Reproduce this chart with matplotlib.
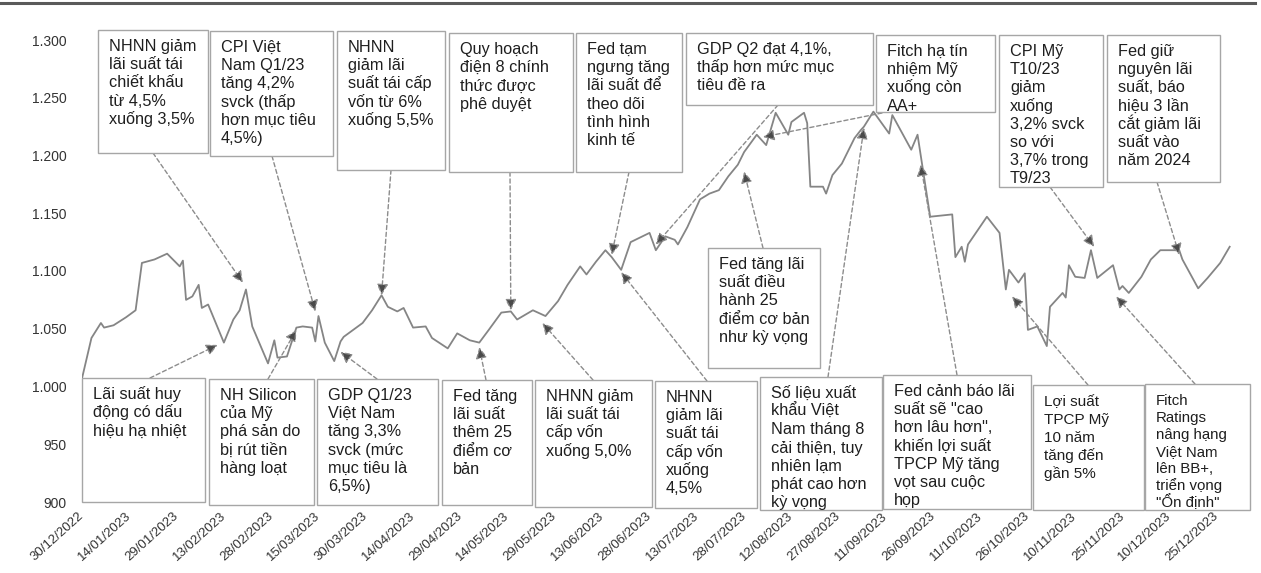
import matplotlib
matplotlib.use("Agg")
import matplotlib.pyplot as plt
import matplotlib.dates as mdates
from matplotlib.patches import Rectangle
from matplotlib.lines import Line2D
import numpy as np
import datetime as dt

# ---------------- data ----------------
dates = ["2022-12-30", "2023-01-02", "2023-01-05", "2023-01-06", "2023-01-09", "2023-01-13",
         "2023-01-16", "2023-01-18", "2023-01-22", "2023-01-26", "2023-01-30", "2023-01-31",
         "2023-02-01", "2023-02-03", "2023-02-05", "2023-02-06", "2023-02-08", "2023-02-13",
         "2023-02-16", "2023-02-18", "2023-02-20", "2023-02-22", "2023-02-27", "2023-03-01",
         "2023-03-02", "2023-03-05", "2023-03-08", "2023-03-10", "2023-03-13", "2023-03-14",
         "2023-03-15", "2023-03-17", "2023-03-20", "2023-03-22", "2023-03-23", "2023-03-29",
         "2023-04-01", "2023-04-04", "2023-04-06", "2023-04-09", "2023-04-11", "2023-04-14",
         "2023-04-18", "2023-04-20", "2023-04-25", "2023-04-28", "2023-05-02", "2023-05-05",
         "2023-05-08", "2023-05-12", "2023-05-15", "2023-05-17", "2023-05-22", "2023-05-26",
         "2023-05-30", "2023-06-02", "2023-06-06", "2023-06-08", "2023-06-11", "2023-06-14",
         "2023-06-16", "2023-06-19", "2023-06-22", "2023-06-28", "2023-06-30", "2023-07-03",
         "2023-07-06", "2023-07-07", "2023-07-10", "2023-07-14", "2023-07-17", "2023-07-20",
         "2023-07-23", "2023-07-26", "2023-07-28", "2023-08-01", "2023-08-04", "2023-08-07",
         "2023-08-11", "2023-08-12", "2023-08-16", "2023-08-17", "2023-08-18", "2023-08-22",
         "2023-08-23", "2023-08-25", "2023-08-28", "2023-09-01", "2023-09-03", "2023-09-04",
         "2023-09-07", "2023-09-12", "2023-09-13", "2023-09-19", "2023-09-21", "2023-09-25",
         "2023-10-02", "2023-10-03", "2023-10-05", "2023-10-06", "2023-10-07", "2023-10-13",
         "2023-10-17", "2023-10-19", "2023-10-20", "2023-10-23", "2023-10-25", "2023-10-26",
         "2023-10-29", "2023-11-01", "2023-11-02", "2023-11-06", "2023-11-07", "2023-11-08",
         "2023-11-10", "2023-11-13", "2023-11-15", "2023-11-17", "2023-11-22", "2023-11-24",
         "2023-11-25", "2023-11-27", "2023-12-01", "2023-12-04", "2023-12-07", "2023-12-13",
         "2023-12-14", "2023-12-19", "2023-12-22", "2023-12-26", "2023-12-29"]
vnindex = [1007, 1042, 1055, 1051, 1053, 1060, 1066, 1107, 1110, 1115, 1104, 1109,
           1075, 1078, 1088, 1068, 1071, 1038, 1058, 1066, 1084, 1052, 1020, 1040,
           1025, 1026, 1051, 1052, 1051, 1039, 1061, 1038, 1022, 1039, 1043, 1055,
           1066, 1079, 1069, 1065, 1068, 1051, 1052, 1042, 1033, 1046, 1040, 1038,
           1049, 1064, 1065, 1058, 1066, 1061, 1074, 1088, 1104, 1097, 1108, 1118,
           1112, 1101, 1125, 1133, 1118, 1130, 1127, 1123, 1138, 1162, 1167, 1170,
           1182, 1192, 1203, 1218, 1209, 1237, 1218, 1229, 1237, 1228, 1173, 1173,
           1167, 1183, 1193, 1215, 1222, 1225, 1238, 1219, 1235, 1205, 1218, 1147,
           1149, 1112, 1121, 1108, 1123, 1147, 1133, 1084, 1101, 1090, 1098, 1049,
           1052, 1035, 1069, 1081, 1077, 1105, 1095, 1094, 1118, 1094, 1105, 1084,
           1087, 1081, 1095, 1110, 1118, 1118, 1110, 1085, 1094, 1107, 1121]

y_ticks = [900, 950, 1000, 1050, 1100, 1150, 1200, 1250, 1300]
x_tick_start = "2022-12-30"
x_tick_step_days = 15
x_tick_count = 25

# annotation texts, arrow targets (date, value)
top_texts = [
    ["NHNN giảm", "lãi suất tái", "chiết khấu", "từ 4,5%", "xuống 3,5%"],
    ["CPI Việt", "Nam Q1/23", "tăng 4,2%", "svck (thấp", "hơn mục tiêu", "4,5%)"],
    ["NHNN", "giảm lãi", "suất tái cấp", "vốn từ 6%", "xuống 5,5%"],
    ["Quy hoạch", "điện 8 chính", "thức được", "phê duyệt"],
    ["Fed tạm", "ngưng tăng", "lãi suất để", "theo dõi", "tình hình", "kinh tế"],
    ["GDP Q2 đạt 4,1%,", "thấp hơn mức mục", "tiêu đề ra"],
    ["Fitch hạ tín", "nhiệm Mỹ", "xuống còn", "AA+"],
    ["CPI Mỹ", "T10/23", "giảm", "xuống", "3,2% svck", "so với", "3,7% trong", "T9/23"],
    ["Fed giữ", "nguyên lãi", "suất, báo", "hiệu 3 lần", "cắt giảm lãi", "suất vào", "năm 2024"],
]
top_targets = [("2023-02-19", 1090), ("2023-03-14", 1065), ("2023-04-04", 1079),
               ("2023-05-15", 1066), ("2023-06-16", 1114), ("2023-06-30", 1123),
               ("2023-08-03", 1216), ("2023-11-16", 1121), ("2023-12-13", 1114)]

mid_texts = [["Fed tăng lãi", "suất điều", "hành 25", "điểm cơ bản", "như kỳ vọng"]]
mid_targets = [("2023-07-28", 1186)]

bottom_texts = [
    ["Lãi suất huy", "động có dấu", "hiệu hạ nhiệt"],
    ["NH Silicon", "của Mỹ", "phá sản do", "bị rút tiền", "hàng loạt"],
    ["GDP Q1/23", "Việt Nam", "tăng 3,3%", "svck (mức", "mục tiêu là", "6,5%)"],
    ["Fed tăng", "lãi suất", "thêm 25", "điểm cơ", "bản"],
    ["NHNN giảm", "lãi suất tái", "cấp vốn", "xuống 5,0%"],
    ["NHNN", "giảm lãi", "suất tái", "cấp vốn", "xuống", "4,5%"],
    ["Số liệu xuất", "khẩu Việt", "Nam tháng 8", "cải thiện, tuy", "nhiên lạm", "phát cao hơn", "kỳ vọng"],
    ["Fed cảnh báo lãi", "suất sẽ \"cao", "hơn lâu hơn\",", "khiến lợi suất", "TPCP Mỹ tăng", "vọt sau cuộc", "họp"],
    ["Lợi suất", "TPCP Mỹ", "10 năm", "tăng đến", "gần 5%"],
    ["Fitch", "Ratings", "nâng hạng", "Việt Nam", "lên BB+,", "triển vọng", "\"Ổn định\""],
]
bottom_targets = [("2023-02-11", 1036), ("2023-03-08", 1049), ("2023-03-22", 1030),
                  ("2023-05-05", 1034), ("2023-05-25", 1055), ("2023-06-19", 1099),
                  ("2023-09-04", 1224), ("2023-09-22", 1192), ("2023-10-21", 1078),
                  ("2023-11-23", 1078)]

# ---------------- layout (pixels) ----------------
W, H, DPI = 1261, 573, 100
top_boxes = [(98, 30, 208, 153), (210, 31, 333, 156), (337, 31, 445, 170),
             (449, 33, 573, 172), (576, 33, 682, 172), (686, 33, 873, 105),
             (876, 35, 995, 112), (999, 35, 1103, 187), (1107, 35, 1220, 182)]
top_starts = [(153, 153), (272, 156), (391, 170), (510, 172), (629, 172), (778, 105),
              (882, 113), (1050, 187), (1157, 182)]
mid_boxes = [(708, 248, 820, 368)]
mid_starts = [(763, 248)]
bottom_boxes = [(82, 378, 205, 502), (209, 379, 314, 505), (317, 379, 438, 505),
                (442, 380, 532, 505), (535, 380, 652, 507), (655, 381, 757, 508),
                (760, 377, 882, 510), (883, 375, 1031, 509), (1033, 385, 1144, 510),
                (1145, 384, 1250, 510)]
bottom_starts = [(150, 378), (268, 379), (377, 379), (486, 380), (593, 380), (707, 381),
                 (828, 377), (957, 375), (1088, 385), (1195, 384)]
bottom_fs = [11.7] * 8 + [11.0, 10.8]
bottom_step = [18.2] * 8 + [18.0, 17.0]

FONT = ["Liberation Sans", "DejaVu Sans"]
plt.rcParams["font.family"] = FONT

fig = plt.figure(figsize=(W / DPI, H / DPI), dpi=DPI)
fig.patch.set_facecolor("white")

x0_px, x1_px = 82, 1240
y_top_px, y_bot_px = 40, 502
px_per_day = 3.153
ax = fig.add_axes([x0_px / W, 1 - y_bot_px / H, (x1_px - x0_px) / W, (y_bot_px - y_top_px) / H])

d0 = dt.datetime.strptime(x_tick_start, "%Y-%m-%d")
xs = [dt.datetime.strptime(d, "%Y-%m-%d") for d in dates]
ax.plot(xs, vnindex, color="#858585", lw=1.3, solid_joinstyle="round")

ax.set_xlim(d0, d0 + dt.timedelta(days=(x1_px - x0_px) / px_per_day))
ax.set_ylim(900, 1300)
for s in ax.spines.values():
    s.set_visible(False)
ax.set_yticks(y_ticks)
ax.set_yticklabels([f"{v:,}".replace(",", ".") for v in y_ticks], fontsize=10, color="#333333")
xt = [d0 + dt.timedelta(days=x_tick_step_days * i) for i in range(x_tick_count)]
ax.set_xticks(xt)
ax.set_xticklabels([t.strftime("%d/%m/%Y") for t in xt], fontsize=9.5, color="#333333",
                   rotation=42, ha="right", va="center", rotation_mode="anchor")
ax.tick_params(axis="both", length=0)
ax.tick_params(axis="y", pad=11)
ax.tick_params(axis="x", pad=9)


def draw_group(texts, boxes, starts, targets, fss, steps):
    for lines, (l, t, r, b), (sx, sy), (td, tv), fs, st in zip(texts, boxes, starts, targets, fss, steps):
        fig.patches.append(Rectangle((l / W, 1 - b / H), (r - l) / W, (b - t) / H,
                                     transform=fig.transFigure, fc="white", ec="#a6a6a6",
                                     lw=1.0, zorder=3))
        for i, line in enumerate(lines):
            fig.text((l + 11) / W, 1 - (t + 21 + i * st) / H, line, fontsize=fs,
                     color="#1e1e1e", ha="left", va="baseline", zorder=4)
        ax.annotate("", xy=(dt.datetime.strptime(td, "%Y-%m-%d"), tv), xycoords="data",
                    xytext=(sx, H - sy), textcoords="figure pixels", annotation_clip=False,
                    arrowprops=dict(arrowstyle="-|>,head_length=0.55,head_width=0.28",
                                    ec="#8c8c8c", fc="#4a4a4a", lw=1.0,
                                    linestyle=(0, (3, 2)), shrinkA=0, shrinkB=0,
                                    mutation_scale=12))


draw_group(top_texts, top_boxes, top_starts, top_targets, [11.7] * 9, [18.2] * 9)
draw_group(mid_texts, mid_boxes, mid_starts, mid_targets, [11.7], [18.2])
draw_group(bottom_texts, bottom_boxes, bottom_starts, bottom_targets, bottom_fs, bottom_step)

# scanned page border at top
fig.add_artist(Line2D([0, 1255 / W], [1 - 3 / H, 1 - 3 / H], transform=fig.transFigure,
                      color="#5a5a5a", lw=2.2))

fig.savefig("out.png", dpi=DPI)
